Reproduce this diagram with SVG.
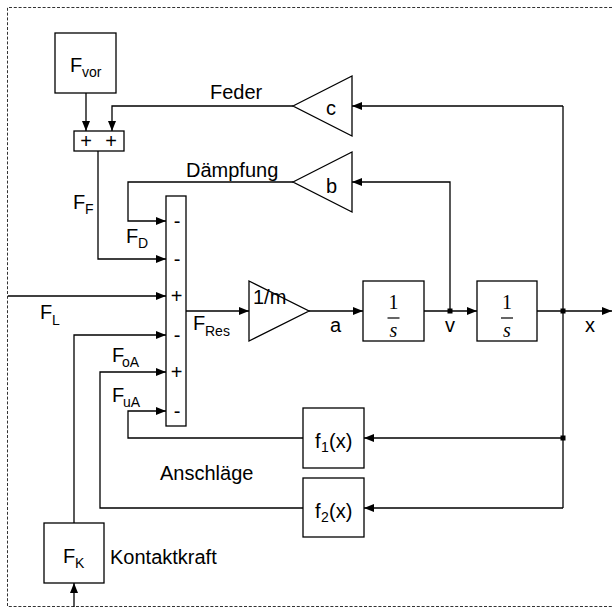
<svg xmlns="http://www.w3.org/2000/svg" width="612" height="608" viewBox="0 0 612 608">
<defs>
<marker id="arr" markerUnits="userSpaceOnUse" markerWidth="11" markerHeight="9" refX="10" refY="4" orient="auto" viewBox="0 0 11 9">
<path d="M0,0 L10,4 L0,8 z" fill="#000"/>
</marker>
</defs>
<style>
text{font-family:"Liberation Sans",Arial,sans-serif;font-size:20px;fill:#000}
.sub{font-size:14px}
.blk{fill:#fff;stroke:#000;stroke-width:1.3}
.ln{fill:none;stroke:#000;stroke-width:1.3}
.a{marker-end:url(#arr)}
.dot{fill:#000}
.math{font-family:"Liberation Serif","DejaVu Serif",serif;font-size:20px}
</style>
<rect width="612" height="608" fill="#fff"/>
<path d="M612,7.5 H7.5 V606.5 H612" fill="none" stroke="#333" stroke-width="1" stroke-dasharray="3 1.8"/>

<g id="connectors">
<path class="ln a" d="M86,93 V131"/>
<path class="ln a" d="M563,106 H352"/>
<path class="ln a" d="M293,106 H112 V131"/>
<path class="ln a" d="M450,311 V182 H352"/>
<path class="ln a" d="M293,182 H128 V221 H166"/>
<path class="ln a" d="M98,151 V259 H166"/>
<path class="ln a" d="M8,296 H166"/>
<path class="ln a" d="M74,523 V335 H166"/>
<path class="ln a" d="M74,607 V583"/>
<path class="ln a" d="M303,508 H100 V372 H166"/>
<path class="ln a" d="M303,438 H128 V411 H166"/>
<path class="ln a" d="M186,311 H249"/>
<path class="ln a" d="M309,311 H363"/>
<path class="ln a" d="M424,311 H477"/>
<path class="ln a" d="M537,311 H612"/>
<path class="ln" d="M563,106 V508"/>
<path class="ln a" d="M563,438 H364"/>
<path class="ln a" d="M563,508 H364"/>
<rect class="dot" x="447.5" y="308.5" width="5" height="5"/>
<rect class="dot" x="560.5" y="308.5" width="5" height="5"/>
<rect class="dot" x="560.5" y="435.5" width="5" height="5"/>
</g>

<g id="Fvor">
<rect class="blk" x="55" y="33" width="61" height="60"/>
<text x="70" y="72">F<tspan class="sub" x="82" y="77">vor</tspan></text>
</g>

<g id="sum1">
<rect class="blk" x="74" y="131" width="50" height="20"/>
<text x="86" y="148" text-anchor="middle">+</text>
<text x="111" y="148" text-anchor="middle">+</text>
</g>

<g id="gain_c">
<polygon class="blk" points="293,106 352,76 352,136"/>
<text x="326" y="115">c</text>
</g>

<g id="gain_b">
<polygon class="blk" points="293,182 352,152 352,212"/>
<text x="326" y="193">b</text>
</g>

<g id="sum2">
<rect class="blk" x="166" y="196" width="20" height="230"/>
<text x="177" y="228" text-anchor="middle">-</text>
<text x="177" y="266" text-anchor="middle">-</text>
<text x="176.5" y="303" text-anchor="middle">+</text>
<text x="177" y="342" text-anchor="middle">-</text>
<text x="176.5" y="379" text-anchor="middle">+</text>
<text x="177" y="418" text-anchor="middle">-</text>
</g>

<g id="gain_m">
<polygon class="blk" points="249,281 309,311 249,341"/>
<text x="253" y="304">1/m</text>
</g>

<g id="int1">
<rect class="blk" x="363" y="281" width="61" height="60"/>
<text class="math" x="393.5" y="309" text-anchor="middle">1</text>
<line x1="387.5" y1="318" x2="399.5" y2="318" stroke="#000" stroke-width="1.2"/>
<text class="math" x="393.5" y="337" text-anchor="middle" font-style="italic">s</text>
</g>

<g id="int2">
<rect class="blk" x="477" y="281" width="60" height="60"/>
<text class="math" x="507" y="309" text-anchor="middle">1</text>
<line x1="501" y1="318" x2="513" y2="318" stroke="#000" stroke-width="1.2"/>
<text class="math" x="507" y="337" text-anchor="middle" font-style="italic">s</text>
</g>

<g id="f1">
<rect class="blk" x="303" y="408" width="61" height="60"/>
<text x="315" y="448">f<tspan class="sub" x="321" y="452">1</tspan><tspan x="329" y="448">(x)</tspan></text>
</g>

<g id="f2">
<rect class="blk" x="303" y="478" width="61" height="59"/>
<text x="315" y="518">f<tspan class="sub" x="321" y="522">2</tspan><tspan x="329" y="518">(x)</tspan></text>
</g>

<g id="FK">
<rect class="blk" x="44" y="523" width="60" height="60"/>
<text x="63" y="563">F<tspan class="sub" x="75" y="568">K</tspan></text>
</g>

<g id="labels">
<text x="210" y="99">Feder</text>
<text x="186" y="177">Dämpfung</text>
<text x="73" y="209">F<tspan class="sub" x="85" y="214">F</tspan></text>
<text x="126" y="243">F<tspan class="sub" x="138" y="248">D</tspan></text>
<text x="40" y="319">F<tspan class="sub" x="52" y="325">L</tspan></text>
<text x="112" y="362">F<tspan class="sub" x="122" y="367">oA</tspan></text>
<text x="112" y="402">F<tspan class="sub" x="123" y="407">uA</tspan></text>
<text x="193" y="330">F<tspan class="sub" x="205" y="336">Res</tspan></text>
<text x="330" y="332">a</text>
<text x="445" y="332">v</text>
<text x="585" y="332">x</text>
<text x="160" y="480">Anschläge</text>
<text x="110" y="564">Kontaktkraft</text>
</g>
</svg>
